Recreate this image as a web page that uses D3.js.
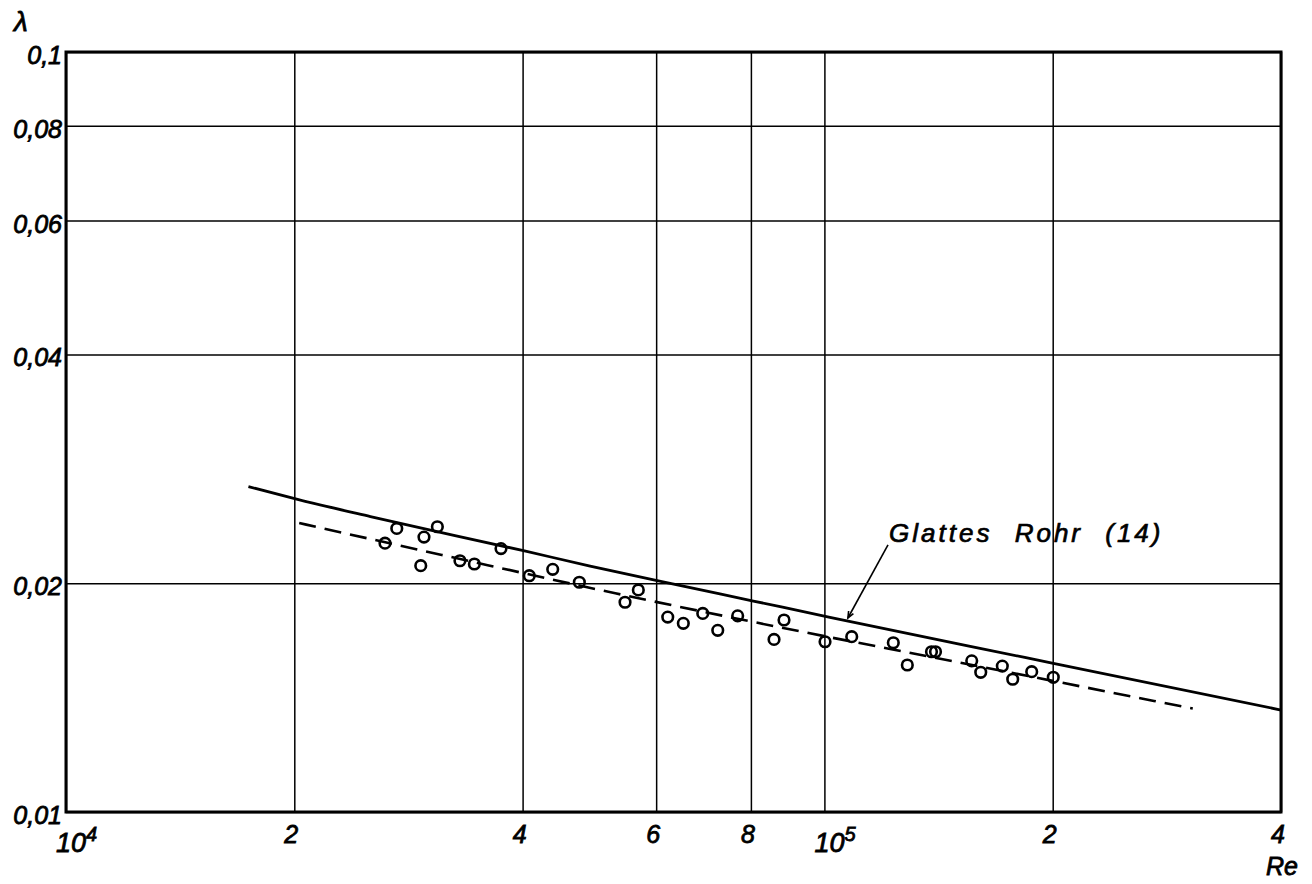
<!DOCTYPE html>
<html>
<head>
<meta charset="utf-8">
<script src="https://cdn.jsdelivr.net/npm/d3@7"></script>
<style>
  html, body { margin: 0; padding: 0; background: #fff; }
  svg { display: block; }
  text { font-family: "Liberation Sans", Arial, sans-serif; font-style: italic; fill: #000; }
</style>
</head>
<body>
<svg id="chart" width="1312" height="884"></svg>
<script>
// Axis ticks (Reynolds number, friction factor)
const reTicks = [1e4, 2e4, 4e4, 6e4, 8e4, 1e5, 2e5, 4e5];
const reTickLabels = ["10^4", "2", "4", "6", "8", "10^5", "2", "4"];
const lambdaTicks = [0.01, 0.02, 0.04, 0.06, 0.08, 0.1];
const lambdaTickLabels = ["0,01", "0,02", "0,04", "0,06", "0,08", "0,1"];

// Measured points
const measuredRe = [26340, 27300, 29360, 29650, 30880, 33070, 34550, 37460, 40820, 43830,
  47520, 54590, 56840, 62150, 65160, 69120, 72340, 76850, 85820, 88460,
  100190, 108650, 123270, 128630, 138420, 140120, 156410, 160750, 171630, 177140,
  187650, 200360];
const measuredLambda = [0.02258, 0.02361, 0.02109, 0.02300, 0.02373, 0.02141, 0.02120, 0.02221, 0.02046, 0.02086,
  0.02006, 0.01888, 0.01960, 0.01805, 0.01771, 0.01825, 0.01734, 0.01812, 0.01687, 0.01789,
  0.01675, 0.01701, 0.01670, 0.01561, 0.01625, 0.01625, 0.01581, 0.01527, 0.01556, 0.01495,
  0.01530, 0.01504];

// Smooth pipe law (14)
const smoothRe = [17400, 20200, 25200, 40100, 49100, 60400, 80600, 101700, 160400, 200400, 400000];
const smoothLambda = [0.0268, 0.02578, 0.02447, 0.02207, 0.02107, 0.02014, 0.01895, 0.01804, 0.01642, 0.01569, 0.01362];

// Mean line through the measurements
const meanRe = [20300, 31300, 53000, 85600, 148700, 306000];
const meanLambda = [0.0240, 0.02179, 0.0194, 0.01757, 0.01577, 0.01368];

const curveLabel = "Glattes Rohr (14)";
const labelAt = { re: 121700, lambda: 0.02266 };
const leaderFrom = { re: 121300, lambda: 0.02246 };
const leaderTo = { re: 107400, lambda: 0.0180 };

const svg = d3.select("#chart");
const x = d3.scaleLog().domain([1e4, 4e5]).range([66, 1281]);
const y = d3.scaleLog().domain([0.01, 0.1]).range([812, 52]);
const plotH = y(0.01) - y(0.1);
const plotW = x(4e5) - x(1e4);

// Grid lines from the axes
const gx = svg.append("g")
  .attr("transform", `translate(0,${y(0.01)})`)
  .call(d3.axisBottom(x).tickValues(reTicks).tickSize(-plotH).tickFormat(() => ""));
const gy = svg.append("g")
  .attr("transform", `translate(${x(1e4)},0)`)
  .call(d3.axisLeft(y).tickValues(lambdaTicks).tickSize(-plotW).tickFormat(() => ""));
[gx, gy].forEach(g => {
  g.select(".domain").remove();
  g.selectAll(".tick line").attr("stroke", "#000").attr("stroke-width", 1.5);
});

// Frame
svg.append("rect")
  .attr("x", x(1e4)).attr("y", y(0.1))
  .attr("width", plotW).attr("height", plotH)
  .attr("fill", "none").attr("stroke", "#000").attr("stroke-width", 3);

// Y tick labels
svg.append("g").selectAll("text")
  .data(lambdaTicks)
  .join("text")
  .attr("x", 62)
  .attr("y", d => y(d) + 12)
  .attr("text-anchor", "end")
  .attr("font-size", 25)
  .attr("stroke", "#000").attr("stroke-width", 0.8)
  .text((d, i) => lambdaTickLabels[i]);

// X tick labels (powers of ten with superscript)
svg.append("g").selectAll("text")
  .data(reTicks)
  .join("text")
  .attr("font-size", 25)
  .attr("stroke", "#000").attr("stroke-width", 0.8)
  .each(function (d, i) {
    const lab = reTickLabels[i];
    const t = d3.select(this);
    if (lab.includes("^")) {
      const [base, exp] = lab.split("^");
      t.attr("x", x(d) - 10).attr("y", 852).attr("text-anchor", "start");
      t.append("tspan").attr("font-size", 27).text(base);
      t.append("tspan").attr("font-size", 20).attr("dy", -11).text(exp);
    } else {
      t.attr("x", x(d) - 3).attr("y", 843).attr("text-anchor", "middle").text(lab);
    }
  });

// Axis titles
svg.append("text").attr("x", 14).attr("y", 31).attr("font-size", 28)
  .attr("stroke", "#000").attr("stroke-width", 0.8).text("λ");
svg.append("text").attr("x", 1298).attr("y", 875).attr("text-anchor", "end")
  .attr("font-size", 25).attr("stroke", "#000").attr("stroke-width", 0.8).text("Re");

// Curves
const line = d3.line().x(d => x(d[0])).y(d => y(d[1])).curve(d3.curveMonotoneX);
svg.append("path")
  .datum(smoothRe.map((r, i) => [r, smoothLambda[i]]))
  .attr("d", line)
  .attr("fill", "none").attr("stroke", "#000").attr("stroke-width", 2.8);
svg.append("path")
  .datum(meanRe.map((r, i) => [r, meanLambda[i]]))
  .attr("d", line)
  .attr("fill", "none").attr("stroke", "#000").attr("stroke-width", 2.6)
  .attr("stroke-dasharray", "17,9");

// Measured points
svg.append("g").selectAll("circle")
  .data(measuredRe.map((r, i) => [r, measuredLambda[i]]))
  .join("circle")
  .attr("cx", d => x(d[0])).attr("cy", d => y(d[1]))
  .attr("r", 5.3)
  .attr("fill", "none").attr("stroke", "#000").attr("stroke-width", 2.6);

// Curve label with leader
const lx1 = x(leaderFrom.re), ly1 = y(leaderFrom.lambda);
const lx2 = x(leaderTo.re), ly2 = y(leaderTo.lambda);
svg.append("line")
  .attr("x1", lx1).attr("y1", ly1).attr("x2", lx2).attr("y2", ly2)
  .attr("stroke", "#000").attr("stroke-width", 1.6);
const ang = Math.atan2(ly2 - ly1, lx2 - lx1);
const ah = 7;
svg.append("path")
  .attr("d", `M${lx2 - ah * Math.cos(ang - 0.4)},${ly2 - ah * Math.sin(ang - 0.4)} L${lx2},${ly2} L${lx2 - ah * Math.cos(ang + 0.4)},${ly2 - ah * Math.sin(ang + 0.4)}`)
  .attr("fill", "none").attr("stroke", "#000").attr("stroke-width", 1.6);
svg.append("text")
  .attr("x", x(labelAt.re)).attr("y", y(labelAt.lambda))
  .attr("font-size", 26)
  .attr("letter-spacing", 3).attr("word-spacing", 12)
  .attr("stroke", "#000").attr("stroke-width", 0.7)
  .text(curveLabel);
</script>
</body>
</html>
